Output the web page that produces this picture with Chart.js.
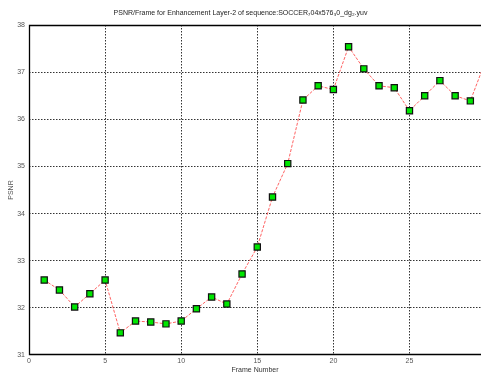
<!DOCTYPE html>
<html>
<head>
<meta charset="utf-8">
<script src="https://cdn.jsdelivr.net/npm/chart.js@4"></script>
<style>
html,body{margin:0;padding:0;background:#fff;}
canvas{display:block;}
</style>
</head>
<body>
<canvas id="c" width="481" height="374" style="width:481px;height:374px"></canvas>
<script>
const frames = [1,2,3,4,5,6,7,8,9,10,11,12,13,14,15,16,17,18,19,20,21,22,23,24,25,26,27,28,29,30];
const psnr = [32.59,32.38,32.02,32.30,32.59,31.47,31.72,31.70,31.66,31.72,31.98,32.23,32.08,32.72,33.29,34.35,35.06,36.41,36.71,36.63,37.54,37.07,36.71,36.67,36.18,36.50,36.82,36.50,36.39,37.24];
const titleText = 'PSNR/Frame for Enhancement Layer-2 of sequence:SOCCER\u208704x576\u20830_dg\u2082.yuv';
const xTitle = 'Frame Number';
const yTitle = 'PSNR';

const FONT = 'Liberation Sans, Arial, Helvetica, sans-serif';

const frame = {
  id: 'frame',
  afterDraw(chart) {
    const {ctx, chartArea} = chart;
    const l = Math.round(chartArea.left) + 0.5;
    const t = Math.round(chartArea.top) + 0.5;
    const b = Math.round(chartArea.bottom) - 0.5;
    ctx.save();
    ctx.strokeStyle = '#000';
    ctx.lineWidth = 1.3;
    ctx.setLineDash([]);
    ctx.beginPath();
    ctx.moveTo(chartArea.right, t);
    ctx.lineTo(l, t);
    ctx.lineTo(l, b);
    ctx.lineTo(chartArea.right, b);
    ctx.stroke();
    ctx.restore();
  }
};

new Chart(document.getElementById('c'), {
  type: 'line',
  data: {
    datasets: [{
      data: frames.map((f, i) => ({x: f, y: psnr[i]})),
      borderColor: 'rgba(255,70,70,0.85)',
      borderWidth: 1,
      borderDash: [3, 1.5],
      pointStyle: 'rect',
      pointRadius: 4.4,
      pointBackgroundColor: '#00e600',
      pointBorderColor: '#111',
      pointBorderWidth: 1.2,
      tension: 0
    }]
  },
  options: {
    responsive: false,
    animation: false,
    events: [],
    layout: {padding: 0, autoPadding: false},
    plugins: {
      legend: {display: false},
      tooltip: {enabled: false},
      title: {
        display: true,
        text: titleText,
        color: '#222',
        font: {family: FONT, size: 7, weight: 'normal'},
        padding: {top: 9, bottom: 7.6}
      }
    },
    scales: {
      x: {
        type: 'linear',
        min: 0,
        max: 29.7,
        afterFit(s) { s.height = 19; },
        ticks: {
          stepSize: 5,
          includeBounds: false,
          color: '#555',
          padding: 2,
          maxRotation: 0,
          font: {family: FONT, size: 7}
        },
        grid: {
          color: (c) => (c.tick && c.tick.value === 0) ? 'rgba(0,0,0,0)' : '#333',
          lineWidth: 1,
          drawTicks: false
        },
        border: {display: false, dash: [1.5, 1.5]},
        title: {
          display: true,
          text: xTitle,
          color: '#333',
          font: {family: FONT, size: 7},
          padding: {top: 0, bottom: 0}
        }
      },
      y: {
        min: 31,
        max: 38,
        afterFit(s) { s.width = 29; },
        ticks: {
          stepSize: 1,
          color: '#555',
          padding: 4,
          font: {family: FONT, size: 7}
        },
        grid: {
          color: (c) => (c.tick && (c.tick.value === 31 || c.tick.value === 38)) ? 'rgba(0,0,0,0)' : '#333',
          lineWidth: 1,
          drawTicks: false
        },
        border: {display: false, dash: [1.5, 1.5]},
        title: {
          display: true,
          text: yTitle,
          color: '#555',
          font: {family: FONT, size: 7},
          padding: {top: 7, bottom: 0}
        }
      }
    }
  },
  plugins: [frame]
});
</script>
</body>
</html>
